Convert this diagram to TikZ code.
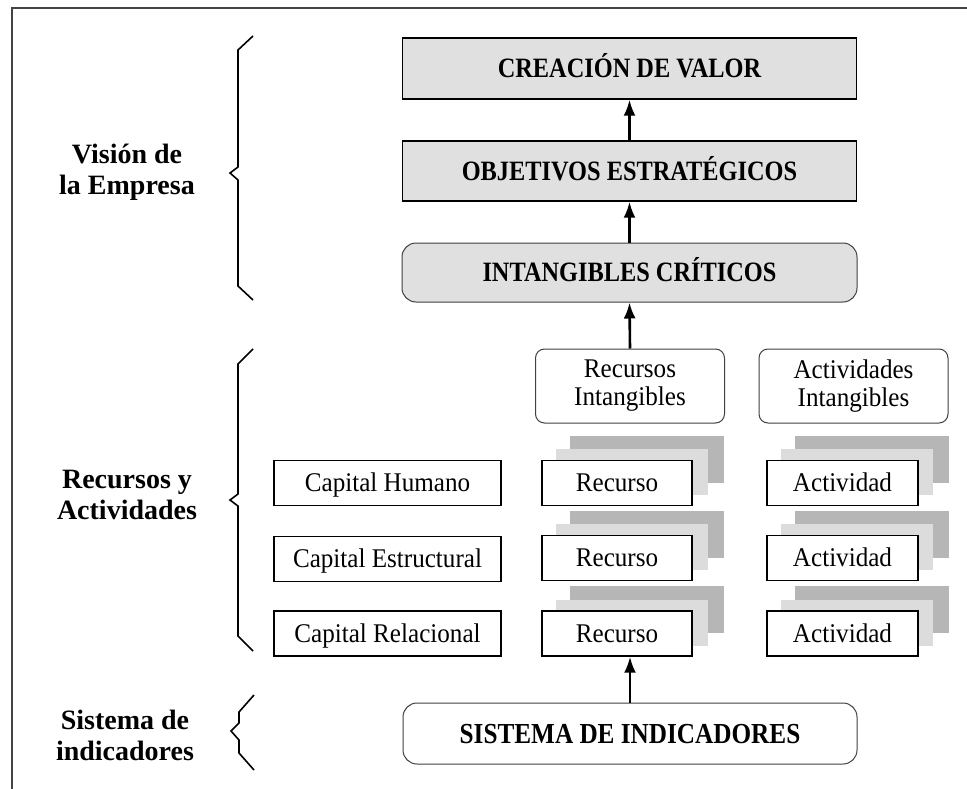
\documentclass[tikz,border=0pt]{standalone}
\usepackage{fontspec}
\setmainfont{Liberation Serif}
\newfontfamily\condserif[FakeStretch=0.87]{Liberation Serif}
\newfontfamily\smallserif[FakeStretch=0.93]{Liberation Serif}
\usetikzlibrary{arrows.meta}
\definecolor{boxgray}{HTML}{E0E0E0}
\definecolor{lightsh}{HTML}{DCDCDC}
\definecolor{darksh}{HTML}{B6B6B6}
\definecolor{framegray}{HTML}{444444}
\tikzset{
  bigbox/.style={draw=black, line width=1.4pt, fill=boxgray, inner sep=0pt,
    text height=18.5pt, text depth=0pt,
    font=\condserif\fontsize{28}{30}\selectfont\bfseries},
  bigrbox/.style={bigbox, rounded corners=14pt, draw=black!75, line width=1pt},
  whitebox/.style={draw=black!75, line width=1pt, fill=white, rounded corners=14pt, inner sep=0pt,
    text height=19pt, text depth=0pt,
    font=\condserif\fontsize{29}{30}\selectfont\bfseries},
  smallrbox/.style={draw=black!75, line width=1pt, fill=white, rounded corners=9pt, inner sep=0pt,
    align=center, font=\smallserif\fontsize{27}{28}\selectfont},
  smallbox/.style={draw=black, line width=1.4pt, fill=white, inner sep=0pt,
    text height=17.5pt, text depth=0pt,
    minimum height=45pt, font=\smallserif\fontsize{27}{28}\selectfont},
  shlight/.style={fill=lightsh, minimum width=152pt, minimum height=46pt, inner sep=0pt},
  shdark/.style={fill=darksh, minimum width=154pt, minimum height=47pt, inner sep=0pt},
  sidelabel/.style={align=center, font=\fontsize{28}{31}\selectfont\bfseries},
  uparrow/.style={line width=2.6pt, -{Latex[length=16pt,width=12pt]}},
  bracel/.style={line width=1.6pt, line join=miter},
}
\begin{document}
\begin{tikzpicture}[x=1pt, y=-1pt]
\useasboundingbox (0,0) rectangle (967,789);
\fill[white] (0,0) rectangle (967,789);
% frame
\draw[framegray, line width=2pt] (12,789) -- (12,8) -- (967,8);

% top column
\node[bigbox, minimum width=454pt, minimum height=61pt] (creacion) at (629.5,68.5) {CREACIÓN DE VALOR};
\node[bigbox, minimum width=454pt, minimum height=60pt] (objetivos) at (629.5,171) {OBJETIVOS ESTRATÉGICOS};
\node[bigrbox, minimum width=455pt, minimum height=59pt] (intcrit) at (629.5,272.5) {INTANGIBLES CRÍTICOS};

\node[smallrbox, minimum width=189pt, minimum height=74pt] (recint) at (630,386) {Recursos\\Intangibles};
\node[smallrbox, minimum width=189pt, minimum height=74pt] (actint) at (853.5,386) {Actividades\\Intangibles};

% stacked shadows
\foreach \yy/\nm in {483/a,558/b,633.5/c}{
  \node[shdark] (rd\nm) at (647,\yy-24) {};
  \node[shlight] (rl\nm) at (632,\yy-11) {};
  \node[shdark] (ad\nm) at (872,\yy-24) {};
  \node[shlight] (al\nm) at (857,\yy-11) {};
}

\node[smallbox, minimum width=150pt] (rec1) at (617,483) {Recurso};
\node[smallbox, minimum width=150pt] (rec2) at (617,558) {Recurso};
\node[smallbox, minimum width=150pt] (rec3) at (617,633.5) {Recurso};
\node[smallbox, minimum width=151pt] (act1) at (842.5,483) {Actividad};
\node[smallbox, minimum width=151pt] (act2) at (842.5,558) {Actividad};
\node[smallbox, minimum width=151pt] (act3) at (842.5,633.5) {Actividad};

\node[smallbox, minimum width=227pt] (caph) at (387.5,483) {Capital Humano};
\node[smallbox, minimum width=227pt] (cape) at (387.5,559) {Capital Estructural};
\node[smallbox, minimum width=227pt] (capr) at (387.5,633.5) {Capital Relacional};

\node[whitebox, minimum width=454pt, minimum height=61pt] (sistema) at (630,733.5) {SISTEMA DE INDICADORES};

% arrows
\draw[uparrow] (objetivos.north) -- (creacion.south);
\draw[uparrow] (intcrit.north) -- (objetivos.south);
\draw[uparrow] (recint.north) -- (intcrit.south);
\draw[uparrow] (sistema.north) -- (sistema.north |- rec3.south);

% side labels
\node[sidelabel] (lvision) at (127,172.5) {Visión de\\la Empresa};
\node[sidelabel] (lrecursos) at (127,495) {Recursos y\\Actividades};
\node[sidelabel] (lsistema) at (125,735) {Sistema de\\indicadores};

% braces
\draw[bracel] (253,36) -- (238,50) -- (238,167) -- (230,173) -- (238,180) -- (238,286) -- (253,300);
\draw[bracel] (253,349) -- (238,364) -- (238,494) -- (230,500) -- (238,506) -- (238,636) -- (253,651);
\draw[bracel] (254,695) -- (239,712) -- (239,723) -- (231,731) -- (239,740) -- (239,753) -- (254,770);
\end{tikzpicture}
\end{document}
